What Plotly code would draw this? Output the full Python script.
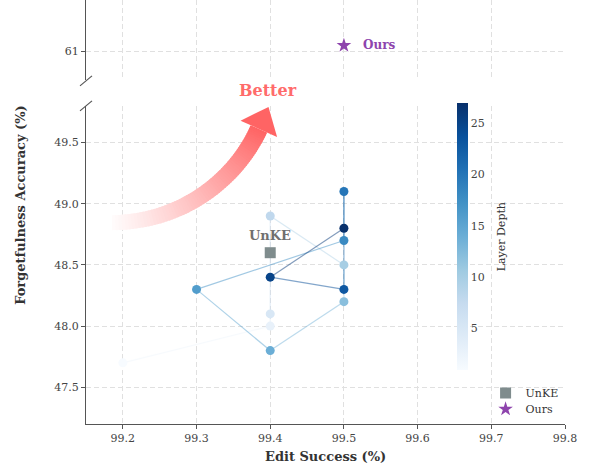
import plotly.graph_objects as go

# ---------------- data ----------------
edit_success = [99.2, 99.4, 99.4, 99.4, 99.5, 99.5, 99.4, 99.3, 99.5, 99.5, 99.5, 99.4, 99.5]
forget_acc   = [47.7, 48.0, 48.1, 48.9, 48.5, 48.2, 47.8, 48.3, 48.7, 49.1, 48.3, 48.4, 48.8]
layer_depth  = [1, 3, 5, 8, 10, 12, 14, 16, 18, 20, 23, 25, 27]

unke_x, unke_y = [99.4], [48.6]
ours_x, ours_y = [99.5], [61.05]

x_ticks = [99.2, 99.3, 99.4, 99.5, 99.6, 99.7, 99.8]
y_ticks_low = [47.5, 48.0, 48.5, 49.0, 49.5]
y_ticks_up = [61]
cbar_ticks = [5, 10, 15, 20, 25]

# ---------------- style ----------------
FONT = "DejaVu Serif"
BLUES = ["#f7fbff", "#deebf7", "#c6dbef", "#9ecae1", "#6baed6",
         "#4292c6", "#2171b5", "#08519c", "#08306b"]
CMIN, CMAX = 1, 27
colorscale = [[i / (len(BLUES) - 1), c] for i, c in enumerate(BLUES)]

W, H = 590, 471
PL, PR, PT, PB = 86, 565.5, 0, 424.5
PW, PH = PR - PL, PB - PT


def hex2rgb(h):
    h = h.lstrip("#")
    return tuple(int(h[i:i + 2], 16) for i in (0, 2, 4))


def blues(v):
    f = (v - CMIN) / (CMAX - CMIN)
    f = min(max(f, 0), 1) * (len(BLUES) - 1)
    i = min(int(f), len(BLUES) - 2)
    t = f - i
    a, b = hex2rgb(BLUES[i]), hex2rgb(BLUES[i + 1])
    return tuple(a[k] + (b[k] - a[k]) * t for k in range(3))


def pp(px, py):
    return (px - PL) / PW, (PB - py) / PH


fig = go.Figure()

# connecting segments
for i in range(len(layer_depth) - 1):
    c = blues((layer_depth[i] + layer_depth[i + 1]) / 2)
    fig.add_trace(go.Scatter(
        x=edit_success[i:i + 2], y=forget_acc[i:i + 2], mode="lines",
        line=dict(color="rgba(%d,%d,%d,0.5)" % c, width=1.2),
        hoverinfo="skip", showlegend=False, xaxis="x", yaxis="y"))

# layer points
fig.add_trace(go.Scatter(
    x=edit_success, y=forget_acc, mode="markers", showlegend=False,
    marker=dict(size=9, color=layer_depth, colorscale=colorscale, cmin=CMIN, cmax=CMAX,
                line=dict(width=0),
                showscale=True,
                colorbar=dict(
                    x=(457.3 - PL) / PW, xanchor="left", xpad=0,
                    y=(PB - 370) / PH, yanchor="bottom", ypad=0,
                    len=(370 - 103) / PH, lenmode="fraction",
                    thickness=11, thicknessmode="pixels",
                    outlinewidth=0, ticks="", tickvals=cbar_ticks,
                    tickfont=dict(family=FONT, size=11, color="#444"))),
    xaxis="x", yaxis="y"))

# UnKE
fig.add_trace(go.Scatter(
    x=unke_x, y=unke_y, mode="markers", name="UnKE", legend="legend",
    marker=dict(symbol="square", size=11, color="#7f8c8d"),
    xaxis="x", yaxis="y"))
# Ours
fig.add_trace(go.Scatter(
    x=ours_x, y=ours_y, mode="markers", name="Ours", legend="legend2",
    marker=dict(symbol="star", size=11, color="#8e44ad"),
    xaxis="x2", yaxis="y2"))

# ---------------- gradient arrow ----------------
P0, P1, P2, P3 = (112, 223), (190, 222), (240, 172), (259, 129)


def bez(t):
    a, b, c, d = (1 - t) ** 3, 3 * t * (1 - t) ** 2, 3 * t * t * (1 - t), t ** 3
    return (a * P0[0] + b * P1[0] + c * P2[0] + d * P3[0],
            a * P0[1] + b * P1[1] + c * P2[1] + d * P3[1])


def bez_d(t):
    dx = 3 * (1 - t) ** 2 * (P1[0] - P0[0]) + 6 * (1 - t) * t * (P2[0] - P1[0]) + 3 * t * t * (P3[0] - P2[0])
    dy = 3 * (1 - t) ** 2 * (P1[1] - P0[1]) + 6 * (1 - t) * t * (P2[1] - P1[1]) + 3 * t * t * (P3[1] - P2[1])
    n = (dx * dx + dy * dy) ** 0.5
    return dx / n, dy / n


N = 70
shapes = []
RED = (255, 100, 100)
for k in range(N):
    t0 = k / N
    t1 = min((k + 1.6) / N, 1.0)
    pts = []
    for t in (t0, t1):
        cx, cy = bez(t)
        dx, dy = bez_d(t)
        nx, ny = -dy, dx
        w = (15 + 3 * t) / 2
        pts.append(((cx + nx * w, cy + ny * w), (cx - nx * w, cy - ny * w)))
    (a1, b1), (a2, b2) = pts
    poly = [a1, a2, b2, b1]
    path = "M " + " L ".join("%.5f,%.5f" % pp(*p) for p in poly) + " Z"
    a = 0.02 + 0.98 * ((k + 0.5) / N) ** 1.05
    col = tuple(int(255 * (1 - a) + RED[j] * a) for j in range(3))
    shapes.append(dict(type="path", path=path, xref="paper", yref="paper",
                       fillcolor="rgb(%d,%d,%d)" % col, line=dict(width=0), layer="above"))

# arrow head
dx, dy = bez_d(1.0)
nx, ny = -dy, dx
tip = (P3[0] + dx * 24, P3[1] + dy * 24)
w1 = (P3[0] + nx * 20, P3[1] + ny * 20)
w2 = (P3[0] - nx * 20, P3[1] - ny * 20)
path = "M " + " L ".join("%.5f,%.5f" % pp(*p) for p in (w1, tip, w2)) + " Z"
shapes.append(dict(type="path", path=path, xref="paper", yref="paper",
                   fillcolor="rgb(%d,%d,%d)" % RED, line=dict(width=0), layer="above"))

# axis break marks
for (cx, cy) in ((86, 81), (86, 106)):
    x0, y0 = pp(cx - 6, cy + 5)
    x1, y1 = pp(cx + 6, cy - 5)
    shapes.append(dict(type="line", xref="paper", yref="paper", x0=x0, y0=y0, x1=x1, y1=y1,
                       line=dict(color="#555", width=1.2), layer="above"))

# ---------------- annotations ----------------
annotations = []
bx, by = pp(268, 91)
annotations.append(dict(text="Better", x=bx, y=by, xref="paper", yref="paper",
                        showarrow=False, xanchor="center", yanchor="middle",
                        font=dict(family=FONT, size=16, color="#ff6b6b", weight="bold")))
annotations.append(dict(text="UnKE", x=unke_x[0], y=unke_y[0], xref="x", yref="y",
                        showarrow=False, yshift=17, xanchor="center", yanchor="middle",
                        font=dict(family=FONT, size=13, color="#707070", weight="bold")))
annotations.append(dict(text="Ours", x=ours_x[0], y=ours_y[0], xref="x2", yref="y2",
                        showarrow=False, xshift=17, xanchor="left", yanchor="middle",
                        font=dict(family=FONT, size=12, color="#8e44ad", weight="bold")))
tx, ty = pp(326, 457)
annotations.append(dict(text="Edit Success (%)", x=0.5, y=ty, xref="paper", yref="paper",
                        showarrow=False, xanchor="center", yanchor="middle",
                        font=dict(family=FONT, size=13, color="#333", weight="bold")))
tx, ty = pp(21, 205)
annotations.append(dict(text="Forgetfulness Accuracy (%)", x=tx, y=ty, xref="paper", yref="paper",
                        showarrow=False, xanchor="center", yanchor="middle", textangle=-90,
                        font=dict(family=FONT, size=13, color="#333", weight="bold")))
tx, ty = pp(502, 237)
annotations.append(dict(text="Layer Depth", x=tx, y=ty, xref="paper", yref="paper",
                        showarrow=False, xanchor="center", yanchor="middle", textangle=-90,
                        font=dict(family=FONT, size=11, color="#333")))

grid = dict(showgrid=True, gridcolor="#e0e0e0", griddash="5px,3px", gridwidth=1, zeroline=False)
tickfont = dict(family=FONT, size=11, color="#444")
low_top = (PB - 106) / PH
up_bot = (PB - 80) / PH

legend_common = dict(xanchor="left", yanchor="top", bgcolor="rgba(0,0,0,0)",
                     font=dict(family=FONT, size=11, color="#333"), itemwidth=30)

fig.update_layout(
    width=W, height=H, autosize=False,
    margin=dict(l=PL, r=W - PR, t=PT, b=H - PB, pad=0),
    paper_bgcolor="white", plot_bgcolor="white",
    font=dict(family=FONT),
    xaxis=dict(domain=[0, 1], range=[99.15, 99.8], anchor="y", tickvals=x_ticks,
               tickformat=".1f", ticks="outside", ticklen=4, tickcolor="#555",
               showline=True, linecolor="#555", linewidth=1.3, tickfont=tickfont, **grid),
    xaxis2=dict(domain=[0, 1], range=[99.15, 99.8], anchor="y2", matches="x",
                tickvals=x_ticks, showticklabels=False, ticks="", showline=False, **grid),
    yaxis=dict(domain=[0, low_top], range=[47.2, 49.8], anchor="x", tickvals=y_ticks_low,
               tickformat=".1f", ticks="outside", ticklen=4, tickcolor="#555",
               showline=True, linecolor="#555", linewidth=1.3, tickfont=tickfont, **grid),
    yaxis2=dict(domain=[up_bot, 1], range=[60.77, 61.42], anchor="x2", tickvals=y_ticks_up,
                ticktext=["61"], ticks="outside", ticklen=4, tickcolor="#555",
                showline=True, linecolor="#555", linewidth=1.3, tickfont=tickfont, **grid),
    legend=dict(x=(486 - PL) / PW, y=(PB - 379) / PH, **legend_common),
    legend2=dict(x=(486 - PL) / PW, y=(PB - 395) / PH, **legend_common),
    shapes=shapes, annotations=annotations,
)

fig.write_html("out.html", config={"displayModeBar": False},
               post_script="document.body.style.margin='0px';")
